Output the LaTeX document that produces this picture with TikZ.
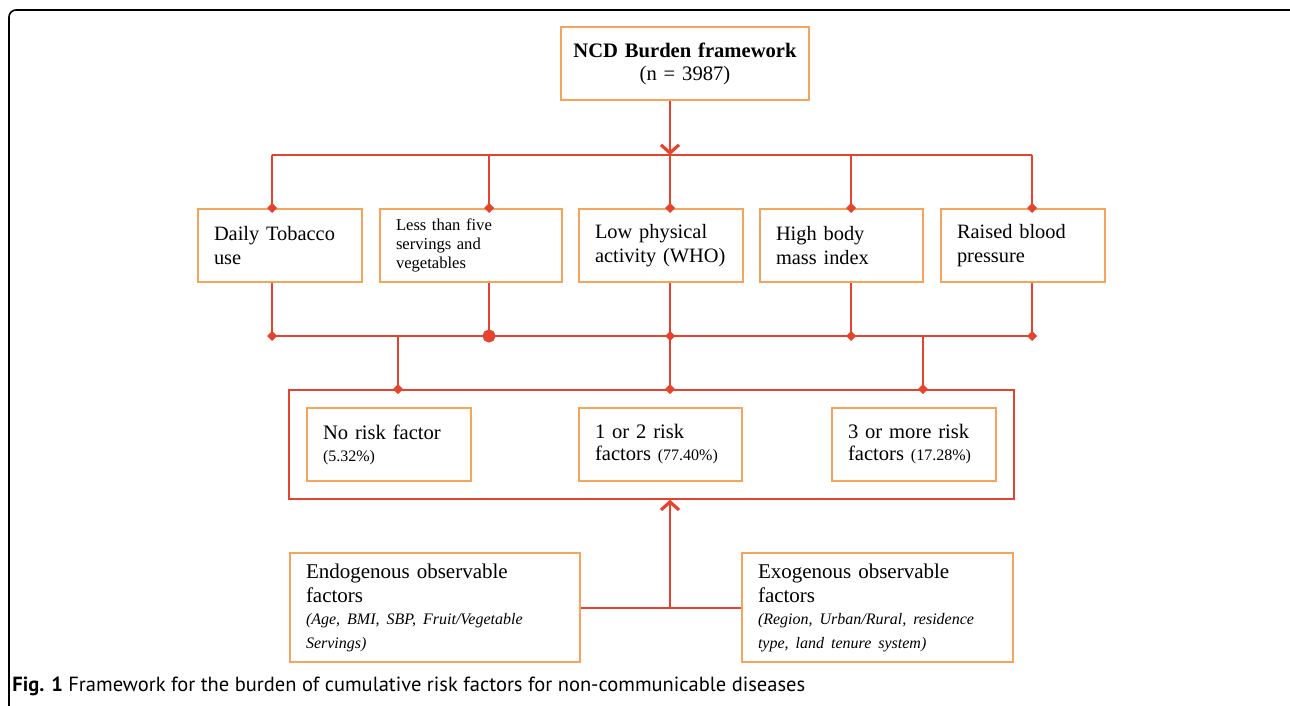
\documentclass[tikz,border=0pt]{standalone}
\usepackage{fontspec}
\setmainfont{Liberation Serif}
\newfontfamily\capfont{PT Sans}
\usetikzlibrary{arrows.meta, positioning}
\usepackage{xcolor}
\definecolor{boxorange}{HTML}{F5A45B}
\definecolor{wirered}{HTML}{E6432F}

\tikzset{
  riskbox/.style={draw=boxorange, line width=1pt, inner xsep=8pt, inner ysep=0pt,
    align=left, minimum height=36.5pt, font=\fontsize{10.2}{12}\selectfont},
  wire/.style={draw=wirered, line width=1pt},
  dia/.style={-{Diamond[length=5pt,width=5pt]}, shorten >=-2.5pt},
  dot/.style={-{Circle[length=6.5pt]}, shorten >=-3.25pt},
  arr/.style={-{Straight Barb[length=4pt,width=9pt,line width=1.6pt]}},
}
\newcommand{\pct}[1]{{\fontsize{8}{9}\selectfont #1}}

\begin{document}
\begin{tikzpicture}[x=0.5pt, y=-0.5pt]
  \useasboundingbox (0,0) rectangle (1290,706);
  % figure frame
  \draw[line width=0.8pt, rounded corners=3.5pt] (9,706) -- (9,10) -- (1290,10);

  % top box
  \node[riskbox, align=center, inner xsep=3pt, text width=118pt, font=\fontsize{10.3}{11.5}\selectfont] (ncd) at (685,63.5)
    {\textbf{NCD Burden framework}\\(n = 3987)};

  % the five risk factors
  \node[riskbox, text width=66pt] (tob) at (280,245.5) {Daily Tobacco\\use};
  \node[riskbox, text width=75pt, font=\fontsize{8.3}{9.6}\selectfont] (veg) at (471,245.5)
    {Less than five\\servings and\\vegetables};
  \node[riskbox, text width=66pt] (act) at (661,245.5) {Low physical\\activity (WHO)};
  \node[riskbox, text width=65.5pt] (bmi) at (841.5,245.5) {High body\\mass index};
  \node[riskbox, text width=66pt] (bp) at (1023,245.5) {Raised blood\\pressure};

  % grouped outcome
  \node[draw=wirered, line width=0.8pt, minimum width=362.5pt, minimum height=54.5pt] (grp) at (651.5,444.5) {};
  \node[riskbox, text width=66pt, font=\fontsize{10.3}{11}\selectfont] (none) at (389,444.5) {No risk factor\\\pct{(5.32\%)}};
  \node[riskbox, text width=65.5pt, font=\fontsize{10.3}{11}\selectfont] (few) at (660.5,444.5) {1 or 2 risk\\factors \pct{(77.40\%)}};
  \node[riskbox, text width=66pt, font=\fontsize{10.3}{11}\selectfont] (many) at (914,444.5) {3 or more risk\\factors \pct{(17.28\%)}};

  % observable factors
  \node[riskbox, minimum height=54.5pt, text width=129pt, font=\fontsize{10.5}{12}\selectfont] (endo) at (435,607.5)
    {Endogenous observable\\factors\\[1pt]{\fontsize{8}{10}\selectfont\itshape (Age, BMI, SBP, Fruit/Vegetable\\Servings)}};
  \node[riskbox, minimum height=54.5pt, text width=119.5pt, font=\fontsize{10.5}{12}\selectfont] (exo) at (877.5,607.5)
    {Exogenous observable\\factors\\[1pt]{\fontsize{8}{10}\selectfont\itshape (Region, Urban/Rural, residence\\type, land tenure system)}};

  % junction points
  \foreach \i/\x in {1/272,2/489,3/670,4/851,5/1032} {
    \coordinate (b\i) at (\x,155);
    \coordinate (c\i) at (\x,336);
  }
  \foreach \i/\x in {1/398,2/670,3/923}
    \coordinate (d\i) at (\x,336);
  \coordinate (e) at (670,607.5);

  % connectors
  \draw[wire, arr] (b3 |- ncd.south) -- (b3);
  \draw[wire] (b1) -- (b5);
  \foreach \i/\n in {1/tob,2/veg,3/act,4/bmi,5/bp}
    \draw[wire, dia] (b\i) -- (b\i |- \n.north);
  \foreach \i/\n in {1/tob,3/act,4/bmi,5/bp}
    \draw[wire, dia] (c\i |- \n.south) -- (c\i);
  \draw[wire, dot] (c2 |- veg.south) -- (c2);
  \draw[wire] (c1) -- (c5);
  \foreach \i in {1,2,3}
    \draw[wire, dia] (d\i) -- (d\i |- grp.north);
  \draw[wire] (endo) -- (exo);
  \draw[wire, arr] (e) -- (e |- grp.south);

  % caption
  \node[anchor=base west, inner sep=0pt, font=\capfont\fontsize{10.25}{12}\selectfont] (cap) at (12,691)
    {\textbf{Fig. 1} Framework for the burden of cumulative risk factors for non-communicable diseases};
\end{tikzpicture}
\end{document}
